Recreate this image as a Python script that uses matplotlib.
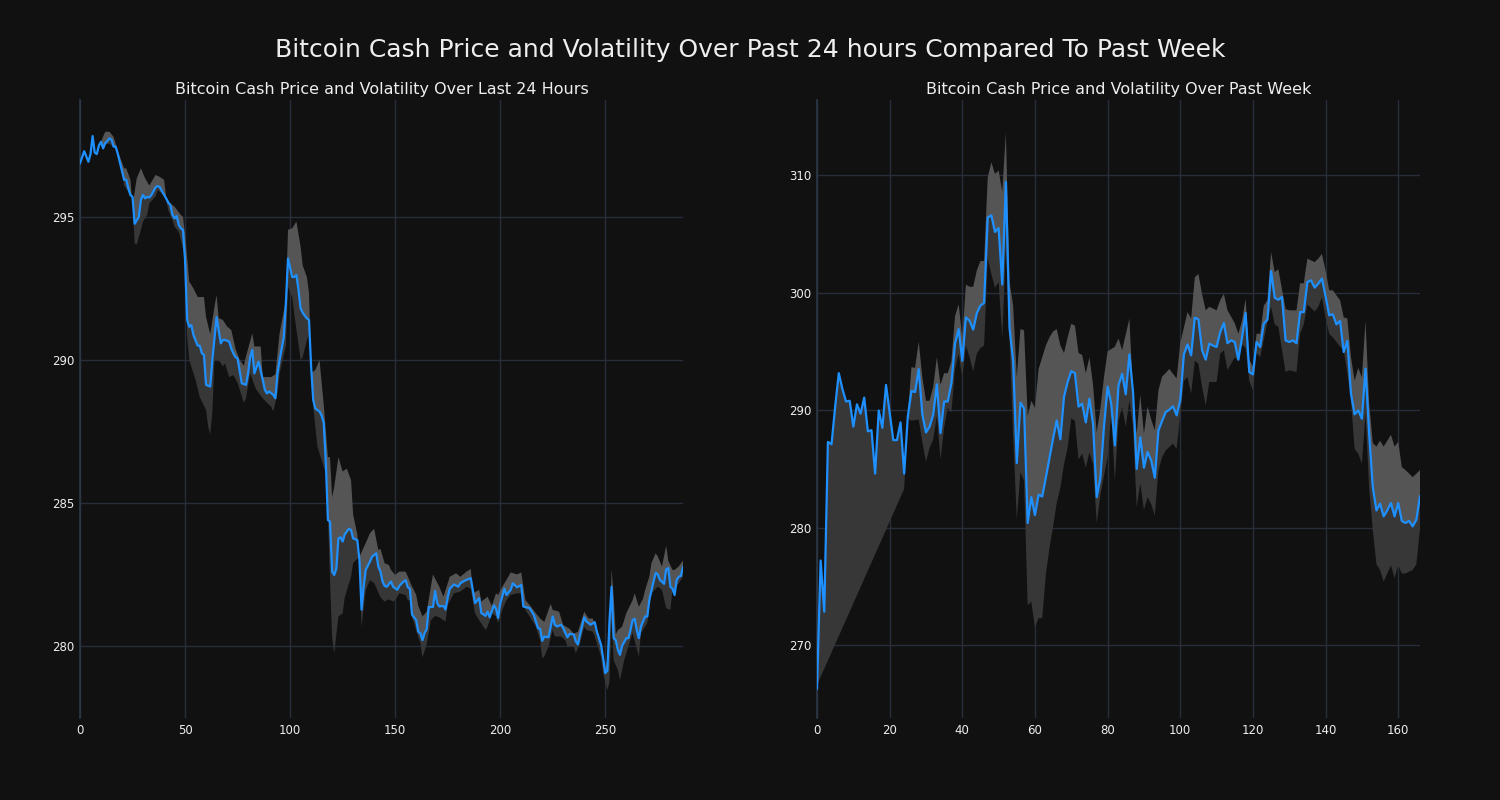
import matplotlib
matplotlib.use("Agg")
import matplotlib.pyplot as plt
import numpy as np

# ---------------- data: last 24 hours (5-minute steps) ----------------
day_x = [0, 2, 4, 5, 6, 7, 8, 9, 10, 11, 12, 13, 14, 15, 16, 17, 18, 19, 21, 22, 23, 24, 25, 26,
         28, 29, 30, 31, 32, 33, 34, 36, 37, 38, 39, 41, 42, 43, 44, 45, 46, 47, 48, 49, 50, 51,
         52, 53, 54, 56, 57, 58, 59, 60, 62, 63, 65, 66, 67, 68, 69, 71, 72, 73, 74, 75, 77, 79,
         80, 81, 82, 83, 85, 87, 88, 89, 90, 92, 93, 94, 95, 97, 98, 99, 101, 102, 103, 104, 105,
         106, 108, 109, 110, 111, 112, 114, 115, 116, 117, 118, 119, 120, 121, 122, 123, 124, 125,
         126, 128, 129, 130, 132, 133, 134, 135, 136, 138, 139, 141, 142, 143, 144, 145, 146, 148,
         149, 151, 152, 154, 155, 156, 157, 158, 160, 161, 162, 163, 164, 165, 166, 168, 169, 170,
         171, 173, 174, 175, 176, 178, 180, 181, 183, 186, 188, 190, 191, 193, 194, 195, 197, 198,
         199, 200, 202, 203, 205, 206, 208, 210, 211, 214, 216, 218, 219, 220, 221, 223, 225, 226,
         227, 229, 230, 231, 232, 233, 235, 236, 237, 238, 240, 241, 243, 245, 246, 248, 249, 250,
         251, 252, 253, 254, 255, 256, 257, 258, 260, 261, 262, 263, 264, 265, 266, 267, 269, 270,
         271, 273, 274, 275, 276, 278, 279, 280, 281, 282, 283, 284, 285, 286, 287]
day_price = [296.88, 297.3, 296.93, 297.2, 297.83, 297.25, 297.2, 297.5, 297.63, 297.4, 297.58,
             297.65, 297.75, 297.7, 297.46, 297.46, 297.2, 296.9, 296.3, 296.3, 296.0, 295.77,
             295.7, 294.76, 295.0, 295.6, 295.77, 295.65, 295.7, 295.68, 295.77, 296.04, 296.08,
             296.04, 295.9, 295.65, 295.5, 295.42, 295.07, 294.95, 295.03, 294.72, 294.6, 294.55,
             293.5, 291.4, 291.16, 291.22, 290.87, 290.5, 290.5, 290.23, 290.18, 289.13, 289.07,
             290.0, 291.5, 291.05, 290.58, 290.7, 290.7, 290.64, 290.4, 290.23, 290.1, 290.05,
             289.18, 289.13, 289.53, 290.1, 290.35, 289.53, 289.94, 289.3, 288.95, 288.83, 288.9,
             288.78, 288.66, 289.53, 290.0, 290.8, 292.0, 293.55, 292.9, 292.9, 292.97, 292.45,
             291.8, 291.65, 291.45, 291.4, 289.77, 288.6, 288.3, 288.2, 288.05, 287.8, 286.4,
             284.4, 284.35, 282.6, 282.48, 282.7, 283.76, 283.8, 283.65, 283.9, 284.1, 284.05,
             283.76, 283.7, 283.0, 281.27, 282.07, 282.66, 282.95, 283.12, 283.24, 282.77, 282.6,
             282.25, 282.1, 282.07, 282.25, 282.07, 281.96, 282.1, 282.25, 282.3, 282.05, 282.0,
             281.1, 280.9, 280.5, 280.44, 280.2, 280.45, 280.58, 281.36, 281.36, 281.92, 281.5,
             281.38, 281.4, 281.27, 281.7, 282.0, 282.15, 282.07, 282.19, 282.28, 282.37, 281.5,
             281.67, 281.15, 281.05, 281.2, 281.0, 281.42, 281.3, 280.98, 281.48, 282.0, 281.78,
             281.96, 282.19, 282.05, 282.13, 281.38, 281.32, 281.08, 280.62, 280.6, 280.18,
             280.33, 280.3, 281.03, 280.74, 280.68, 280.74, 280.62, 280.45, 280.3, 280.42, 280.4,
             280.16, 280.05, 280.4, 281.0, 280.86, 280.74, 280.83, 280.5, 280.04, 279.57, 279.05,
             279.13, 280.86, 282.07, 280.27, 280.2, 279.86, 279.69, 280.0, 280.27, 280.27, 280.55,
             280.9, 280.95, 280.55, 280.27, 280.68, 281.03, 281.03, 281.62, 282.26, 282.55, 282.5,
             282.31, 282.17, 282.68, 282.72, 282.07, 282.0, 281.78, 282.31, 282.42, 282.45, 282.75]

day_upper_x = [10, 12, 14, 16, 18, 21, 22, 24, 25, 27, 29, 31, 33, 36, 38, 40, 41, 43, 45, 48,
               49, 50, 52, 54, 56, 59, 60, 62, 64, 65, 66, 68, 70, 72, 74, 76, 78, 79, 82, 83,
               86, 87, 91, 93, 95, 98, 99, 101, 103, 105, 106, 108, 109, 110, 112, 114, 116,
               118, 119, 120, 121, 123, 125, 127, 129, 130, 132, 133, 136, 138, 140, 142, 143,
               145, 147, 148, 150, 152, 155, 156, 158, 160, 161, 163, 165, 168, 171, 173, 175,
               176, 179, 181, 184, 186, 187, 190, 191, 194, 196, 198, 199, 201, 203, 205, 208,
               210, 212, 214, 217, 219, 221, 224, 225, 228, 230, 233, 235, 237, 240, 242, 244,
               247, 248, 250, 252, 253, 254, 255, 256, 258, 260, 263, 264, 266, 268, 269, 271,
               272, 274, 275, 277, 279, 280, 282, 283, 285, 287]
day_upper = [297.63, 297.98, 297.98, 297.8, 297.3, 296.7, 296.7, 296.3, 295.4, 296.35, 296.7,
             296.35, 296.1, 296.47, 296.4, 296.3, 295.7, 295.47, 295.36, 295.07, 295.0, 294.4,
             292.74, 292.5, 292.2, 292.2, 291.5, 290.9, 291.86, 292.27, 291.46, 291.4, 291.17,
             291.05, 290.4, 290.0, 289.8, 290.12, 290.93, 290.47, 290.47, 289.4, 289.4, 289.5,
             290.93, 292.1, 294.55, 294.6, 294.84, 293.96, 293.3, 292.9, 292.33, 289.53, 289.65,
             290.0, 288.44, 286.6, 286.6, 285.2, 285.57, 286.6, 286.1, 286.2, 285.8, 284.6,
             283.9, 283.12, 283.6, 283.94, 284.1, 283.35, 283.4, 282.89, 282.83, 282.66, 282.48,
             282.6, 282.6, 282.43, 282.08, 281.79, 281.4, 281.03, 281.2, 282.5, 282.07, 281.72,
             282.19, 282.42, 282.54, 282.42, 282.6, 282.69, 281.84, 281.96, 281.55, 281.72,
             281.4, 281.84, 281.78, 282.07, 282.31, 282.57, 282.5, 282.57, 281.6, 281.43,
             281.14, 280.96, 280.84, 281.47, 281.26, 281.2, 280.73, 280.6, 280.43, 280.49,
             281.2, 280.96, 280.96, 280.38, 279.8, 279.2, 279.9, 282.69, 281.72, 280.4, 280.55,
             280.67, 281.14, 281.6, 281.84, 281.37, 281.66, 281.96, 282.43, 282.9, 283.24,
             283.13, 282.78, 283.5, 282.98, 282.66, 282.66, 282.78, 282.99]

day_lower_x = [10, 11, 14, 18, 19, 21, 23, 25, 26, 27, 29, 30, 32, 33, 36, 37, 39, 41, 42, 44,
               45, 47, 48, 50, 51, 52, 55, 57, 60, 61, 62, 63, 64, 66, 68, 69, 71, 73, 75, 78,
               79, 81, 83, 84, 87, 89, 91, 92, 94, 95, 98, 99, 101, 102, 105, 106, 108, 109,
               110, 111, 113, 115, 117, 118, 119, 120, 121, 123, 125, 126, 129, 130, 133, 134,
               136, 138, 140, 143, 145, 147, 149, 150, 152, 155, 156, 157, 158, 159, 160, 162,
               163, 165, 167, 169, 171, 174, 175, 178, 181, 184, 186, 188, 190, 193, 194, 196,
               198, 199, 201, 203, 205, 208, 210, 212, 214, 217, 219, 220, 221, 223, 225, 226,
               229, 231, 232, 235, 236, 238, 240, 241, 244, 245, 248, 249, 251, 252, 253, 254,
               256, 257, 259, 261, 263, 266, 267, 270, 272, 275, 277, 279, 281, 282, 285, 287]
day_lower = [297.63, 297.52, 297.57, 297.3, 296.9, 296.1, 295.88, 295.6, 294.08, 294.03, 294.55,
             294.84, 295.07, 295.48, 295.72, 295.94, 295.82, 295.6, 295.24, 294.9, 294.66,
             294.48, 294.2, 293.6, 290.8, 290.0, 289.3, 288.7, 288.25, 287.67, 287.4, 288.2,
             290.0, 290.0, 289.77, 289.88, 289.4, 289.47, 289.2, 288.5, 288.66, 289.53, 289.12,
             288.95, 288.66, 288.5, 288.37, 288.2, 288.84, 289.53, 290.5, 292.56, 292.2, 291.6,
             290.0, 290.1, 290.7, 290.9, 289.53, 288.37, 286.97, 286.5, 286.04, 284.6, 282.3,
             280.3, 279.74, 281.03, 281.14, 281.7, 282.42, 282.9, 283.12, 280.67, 281.95,
             282.3, 282.2, 281.7, 281.55, 281.63, 281.55, 281.6, 281.84, 281.78, 281.6, 281.6,
             281.0, 280.8, 280.53, 280.1, 279.6, 280.05, 280.9, 281.05, 281.0, 280.85, 281.43,
             281.84, 281.9, 282.07, 282.0, 281.14, 280.9, 280.56, 280.67, 281.14, 281.03,
             280.8, 281.26, 281.6, 281.78, 281.84, 281.84, 281.26, 281.03, 280.67, 280.2,
             279.57, 279.63, 279.98, 280.56, 280.33, 280.33, 280.2, 279.98, 279.98, 279.74,
             280.1, 280.67, 280.56, 280.5, 280.33, 279.63, 279.05, 278.45, 278.75, 280.9,
             279.5, 279.16, 278.8, 279.5, 279.98, 280.45, 279.63, 280.45, 280.8, 281.84,
             282.07, 281.96, 281.32, 281.26, 281.96, 282.19, 282.42]

# ---------------- data: past week (hourly) ----------------
week_price = [266.3, 277.2, 272.85, 287.3, 287.1, 290.3, 293.15, 291.8, 290.74, 290.8, 288.6,
              290.5, 289.7, 291.07, 288.2, 288.3, 284.6, 289.97, 288.5, 292.15, 289.8, 287.45,
              287.45, 288.96, 284.6, 289.46, 291.64, 291.54, 293.5, 289.63, 288.1, 288.6,
              289.63, 292.2, 288.05, 290.74, 290.74, 292.3, 295.67, 296.9, 294.2, 297.9, 297.6,
              296.85, 298.26, 298.9, 299.13, 306.4, 306.58, 305.17, 305.5, 300.7, 309.43, 297.0,
              294.16, 285.5, 290.64, 290.14, 280.4, 282.6, 281.07, 282.8, 282.65, 284.26,
              285.94, 287.6, 289.13, 287.52, 291.14, 292.4, 293.32, 293.15, 290.3, 290.54,
              288.96, 290.97, 288.8, 282.6, 284.2, 288.6, 292.0, 290.55, 287.0, 292.1, 293.1,
              291.35, 294.75, 291.55, 285.0, 287.7, 285.1, 286.44, 285.73, 284.25, 288.28,
              289.08, 289.84, 290.04, 290.33, 289.56, 290.84, 294.75, 295.6, 294.67, 297.87,
              297.73, 295.1, 294.3, 295.66, 295.5, 295.38, 296.65, 297.42, 295.7, 295.94, 295.8,
              294.3, 296.17, 298.27, 293.25, 293.05, 295.8, 295.38, 297.36, 297.7, 301.84,
              299.57, 299.4, 299.63, 295.94, 295.8, 295.94, 295.7, 298.35, 298.35, 300.9,
              301.05, 300.43, 300.77, 301.2, 299.7, 298.07, 298.16, 297.3, 297.6, 294.95, 295.9,
              291.4, 289.65, 289.98, 289.27, 293.53, 288.0, 283.46, 281.47, 282.04, 280.96,
              281.47, 282.1, 280.96, 282.1, 280.57, 280.4, 280.57, 280.11, 280.68, 282.67]

week_upper_x = [25, 26, 27, 28, 29, 30, 31, 32, 33, 34, 35, 36, 37, 38, 39, 40, 41, 42, 43, 44,
                45, 46, 47, 48, 49, 50, 51, 52, 53, 54, 55, 56, 57, 58, 59, 60, 61, 62, 63, 64,
                65, 66, 67, 68, 69, 70, 71, 72, 73, 74, 75, 76, 77, 78, 79, 80, 82, 83, 84, 86,
                87, 88, 89, 90, 91, 92, 93, 94, 95, 97, 99, 100, 102, 103, 104, 105, 106, 107,
                108, 110, 111, 112, 113, 115, 116, 117, 118, 119, 120, 121, 122, 123, 124, 125,
                126, 127, 129, 130, 132, 133, 134, 135, 137, 138, 139, 140, 141, 142, 144, 145,
                146, 147, 148, 149, 150, 151, 152, 153, 154, 155, 156, 157, 158, 159, 160, 161,
                162, 164, 165, 166]
week_upper = [289.5, 293.66, 293.6, 295.84, 292.8, 290.8, 290.8, 292.0, 294.5, 292.15, 293.15,
              293.15, 294.16, 298.0, 299.0, 296.2, 300.7, 300.5, 300.5, 301.9, 302.7, 302.7,
              309.8, 311.1, 310.1, 310.4, 308.6, 313.6, 300.9, 298.9, 292.8, 296.9, 296.8, 289.5,
              290.8, 290.2, 293.5, 294.5, 295.5, 296.2, 296.7, 296.9, 295.5, 294.86, 296.2,
              297.35, 297.2, 294.86, 294.7, 293.15, 294.5, 292.15, 288.1, 290.1, 292.8, 295.0,
              295.4, 296.1, 295.1, 297.8, 291.4, 288.0, 291.3, 288.0, 290.3, 289.2, 288.3, 291.7,
              292.85, 293.5, 292.7, 295.7, 298.35, 297.8, 301.3, 301.6, 299.9, 298.5, 298.8,
              298.5, 299.35, 299.9, 298.5, 297.4, 296.5, 297.6, 299.5, 294.3, 293.7, 296.5,
              296.5, 298.9, 299.35, 303.46, 301.75, 302.0, 298.6, 298.5, 298.5, 300.8, 300.8,
              302.9, 302.6, 302.9, 303.3, 301.9, 300.2, 300.2, 299.35, 297.9, 297.8, 294.5,
              292.5, 293.6, 292.8, 297.6, 290.6, 287.2, 286.9, 287.4, 286.9, 287.4, 287.9, 286.9,
              287.3, 285.16, 284.9, 284.3, 284.6, 284.9]

week_lower_x = [0, 24, 25, 26, 28, 29, 30, 31, 32, 33, 34, 35, 36, 37, 38, 39, 40, 41, 42, 43,
                44, 45, 46, 47, 48, 49, 50, 51, 52, 53, 54, 55, 56, 57, 58, 59, 60, 61, 62, 63,
                64, 65, 66, 67, 68, 69, 70, 71, 72, 73, 74, 75, 76, 77, 78, 79, 80, 81, 82, 83,
                84, 85, 86, 87, 88, 89, 90, 91, 92, 93, 94, 95, 96, 98, 99, 101, 102, 103, 104,
                105, 106, 107, 108, 110, 111, 112, 113, 114, 115, 116, 117, 118, 119, 120, 121,
                122, 123, 124, 125, 126, 127, 129, 130, 132, 133, 134, 135, 137, 138, 139, 140,
                141, 142, 144, 145, 146, 147, 148, 149, 150, 151, 152, 153, 154, 155, 156, 157,
                158, 159, 160, 161, 162, 164, 165, 166]
week_lower = [266.6, 283.3, 289.3, 289.1, 289.2, 287.3, 285.6, 286.8, 287.5, 289.5, 285.8,
              288.5, 290.2, 289.8, 293.5, 294.8, 292.8, 295.5, 294.5, 293.3, 294.8, 295.3,
              295.5, 302.9, 301.6, 300.4, 300.9, 296.2, 303.9, 296.2, 287.8, 280.7, 284.7,
              284.0, 273.4, 273.7, 271.5, 272.3, 272.3, 276.0, 278.3, 280.1, 282.1, 283.4,
              285.4, 286.8, 289.3, 289.1, 285.8, 286.3, 285.1, 286.4, 285.4, 280.4, 282.75,
              284.4, 286.0, 289.7, 284.0, 289.1, 290.27, 288.6, 290.84, 288.6, 281.76, 283.75,
              281.5, 282.6, 282.0, 281.05, 284.9, 286.0, 286.58, 287.15, 286.7, 292.5, 292.8,
              291.4, 294.2, 293.95, 292.0, 290.4, 292.4, 292.4, 294.8, 295.1, 293.4, 293.95,
              294.5, 294.2, 295.6, 295.3, 292.5, 291.7, 294.9, 294.5, 296.0, 297.5, 298.8,
              297.3, 297.1, 293.25, 293.4, 293.25, 296.5, 297.3, 299.0, 298.4, 298.8, 299.6,
              297.9, 296.5, 296.2, 295.4, 295.1, 293.1, 290.8, 286.7, 286.3, 285.45, 289.7,
              283.4, 279.8, 276.9, 276.4, 275.4, 276.1, 276.8, 275.7, 276.8, 276.1, 276.1,
              276.4, 276.9, 279.9]

SUPTITLE = "Bitcoin Cash Price and Volatility Over Past 24 hours Compared To Past Week"
TITLES = ["Bitcoin Cash Price and Volatility Over Last 24 Hours",
          "Bitcoin Cash Price and Volatility Over Past Week"]
day_yticks = [280, 285, 290, 295]
week_yticks = [270, 280, 290, 300, 310]
day_xticks = [0, 50, 100, 150, 200, 250]
week_xticks = [0, 20, 40, 60, 80, 100, 120, 140, 160]

# ---------------- styling ----------------
BG = "#111111"
GRID = "#272e3a"
LINE = "#1e90ff"
LIGHT = "#555555"
DARK = "#373737"
TXT = "#eeeeee"

plt.rcParams["font.family"] = ["DejaVu Sans"]

fig = plt.figure(figsize=(15, 8), dpi=100, facecolor=BG)
ax1 = fig.add_axes([80 / 1500, 82 / 800, 603 / 1500, 618 / 800])
ax2 = fig.add_axes([817 / 1500, 82 / 800, 603 / 1500, 618 / 800])


def draw(ax, px, py, ux, uy, lx, ly, title, xticks, yticks, xlim, ylim):
    ax.set_facecolor(BG)
    px = np.asarray(px, float)
    py = np.asarray(py, float)
    # lower (darker) band: between lower edge and price
    m = px >= lx[0]
    ax.fill(np.r_[lx, px[m][::-1]], np.r_[ly, py[m][::-1]], color=DARK, lw=0, zorder=2)
    # upper (lighter) band: between price and upper edge
    m = (px >= ux[0]) & (px <= ux[-1])
    ax.fill(np.r_[ux, px[m][::-1]], np.r_[uy, py[m][::-1]], color=LIGHT, lw=0, zorder=3)
    ax.plot(px, py, color=LINE, lw=1.6, zorder=4)
    ax.set_xlim(*xlim)
    ax.set_ylim(*ylim)
    ax.set_xticks(xticks)
    ax.set_yticks(yticks)
    ax.grid(True, color=GRID, lw=1.0, zorder=0)
    ax.set_axisbelow(True)
    for s in ["top", "right", "bottom"]:
        ax.spines[s].set_visible(False)
    ax.spines["left"].set_color("#2c3746")
    ax.spines["left"].set_linewidth(1.2)
    ax.tick_params(axis="both", length=0, colors=TXT, labelsize=8.5)
    ax.tick_params(axis="x", pad=4)
    ax.tick_params(axis="y", pad=4)
    ax.set_title(title, color=TXT, fontsize=11.5, pad=4.5)


draw(ax1, day_x, day_price, day_upper_x, day_upper, day_lower_x, day_lower,
     TITLES[0], day_xticks, day_yticks, (0, 287), (277.48, 299.09))
draw(ax2, np.arange(len(week_price)), week_price, week_upper_x, week_upper,
     week_lower_x, week_lower, TITLES[1], week_xticks, week_yticks, (0, 166), (263.8, 316.4))

fig.suptitle(SUPTITLE, color=TXT, fontsize=18, y=1 - 50 / 800, va="center")
fig.savefig("out.png", dpi=100, facecolor=BG)
